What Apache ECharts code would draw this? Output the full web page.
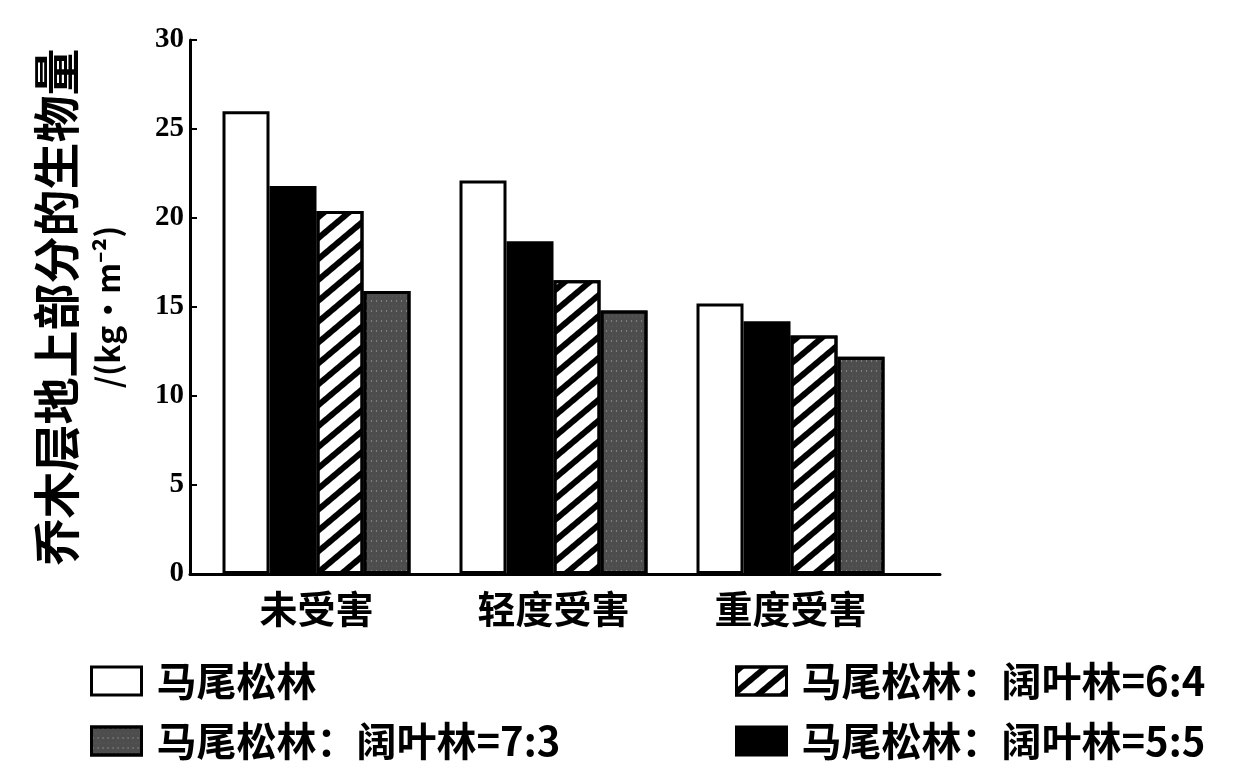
<!DOCTYPE html>
<html>
<head>
<meta charset="utf-8">
<script src="https://cdn.jsdelivr.net/npm/echarts@6/dist/echarts.min.js"></script>
<style>html,body{margin:0;padding:0;background:#fff;}#c{width:1250px;height:768px;}</style>
</head>
<body>
<div id="c"></div>
<script>
const categories = ['未受害', '轻度受害', '重度受害'];
const seriesNames = ['马尾松林', '马尾松林：阔叶林=5:5', '马尾松林：阔叶林=6:4', '马尾松林：阔叶林=7:3'];
const pureMasson = [26.0, 22.1, 15.2];
const ratio55 = [21.8, 18.7, 14.2];
const ratio64 = [20.4, 16.5, 13.4];
const ratio73 = [15.9, 14.8, 12.2];
const yTicks = [0, 5, 10, 15, 20, 25, 30];
const yName = '乔木层地上部分的生物量';
const yUnit = '/(kg·m⁻²)';

const cjk = '"Noto Sans CJK SC", "Noto Sans", sans-serif';
const chart = echarts.init(document.getElementById('c'));

const styles = [
  { color: '#ffffff' },
  { color: '#000000' },
  { color: '#ffffff', decal: { symbol: 'rect', color: '#000', dashArrayX: [1, 0], dashArrayY: [6, 10], rotation: -Math.PI / 4.5 } },
  { color: '#4d4d4d', decal: { symbol: 'circle', color: 'rgba(255,255,255,0.45)', symbolSize: 0.7, dashArrayX: [[1, 3], [3, 2]], dashArrayY: [2, 3] } }
];
const values = [pureMasson, ratio55, ratio64, ratio73];

const series = seriesNames.map((n, i) => ({
  name: n,
  type: 'bar',
  data: values[i],
  barWidth: 47,
  barGap: '0%',
  itemStyle: Object.assign({ borderColor: '#000', borderWidth: 3 }, styles[i])
}));

const legendBase = {
  orient: 'horizontal',
  icon: 'rect',
  itemWidth: 50,
  itemHeight: 28,
  textStyle: { fontFamily: cjk, fontSize: 40, fontWeight: 'bold', color: '#000', letterSpacing: 5, padding: [0, 0, 0, 10] },
  itemStyle: { borderColor: '#000', borderWidth: 3 }
};
const legendPos = [
  { name: seriesNames[0], left: 85, top: 656 },
  { name: seriesNames[3], left: 85, top: 716 },
  { name: seriesNames[2], left: 730, top: 656 },
  { name: seriesNames[1], left: 730, top: 716 }
];

chart.setOption({
  animation: false,
  backgroundColor: '#fff',
  legend: legendPos.map(p => Object.assign({}, legendBase, { data: [p.name], left: p.left, top: p.top })),
  grid: [
    { left: 198, right: 341, top: 40, bottom: 194 },
    { left: 190, right: 310, top: 40, bottom: 194 }
  ],
  xAxis: [
    {
      type: 'category',
      data: categories,
      gridIndex: 0,
      axisLine: { show: false },
      axisTick: { show: false },
      axisLabel: { fontFamily: cjk, fontSize: 38, fontWeight: 'bold', color: '#000', margin: 16, letterSpacing: 3 }
    },
    {
      type: 'value',
      gridIndex: 1,
      min: 0, max: 1,
      axisLine: { show: true, lineStyle: { color: '#000', width: 3 } },
      axisTick: { show: false },
      axisLabel: { show: false },
      splitLine: { show: false }
    }
  ],
  yAxis: [
    {
      type: 'value',
      gridIndex: 0,
      min: yTicks[0],
      max: yTicks[yTicks.length - 1],
      interval: 5,
      offset: 8,
      axisLine: { show: true, lineStyle: { color: '#000', width: 3 } },
      axisTick: { show: true, inside: true, length: 7, lineStyle: { color: '#000', width: 2 } },
      splitLine: { show: false },
      axisLabel: { fontFamily: '"Liberation Serif", serif', fontSize: 29, fontWeight: 'bold', color: '#000', margin: 6 },
      name: '{a|' + yName + '}\n{b|' + yUnit + '}',
      nameLocation: 'middle',
      nameRotate: 90,
      nameGap: 62,
      nameTextStyle: {
        color: '#000',
        rich: {
          a: { fontFamily: cjk, fontSize: 47, fontWeight: 'bold', lineHeight: 64, color: '#000' },
          b: { fontFamily: cjk, fontSize: 32, fontWeight: 'bold', lineHeight: 40, color: '#000' }
        }
      }
    },
    { type: 'value', gridIndex: 1, show: false, min: 0, max: 1 }
  ],
  series: series
});
</script>
</body>
</html>
